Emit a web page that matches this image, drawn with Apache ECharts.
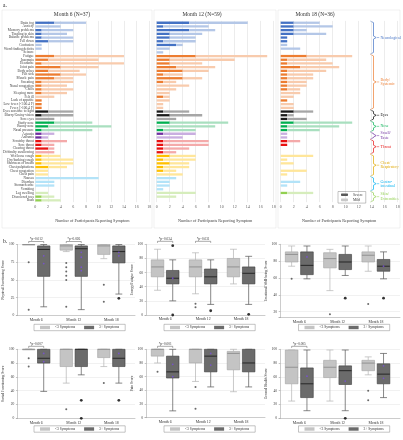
<!DOCTYPE html>
<html><head><meta charset="utf-8">
<script src="https://cdn.jsdelivr.net/npm/echarts@6.0.0/dist/echarts.min.js"></script>
<style>html,body{margin:0;padding:0;background:#fff;}#c{width:403px;height:440px;}</style>
</head><body><div id="c"></div>
<script>
// ================= Panel a data =================
const symptoms = ['Brain fog','Anxiety','Memory problems','Tingling in skin','Balance problems','Fell down','Confusion','Word finding deficits','Seizure',
 'Fatigue','Insomnia','Headache','Joint pain','Body aches','Felt sick','Muscle pain','Sweating','Nasal congestion','Chills','Sleeping more','Felt ill','Lack of appetite','Low fever (<100.4 F)','Fever (>100.4 F)',
 'Eyes sensitive to light','Blurry/Grainy vision','Sore eyes',
 'Stuffy nose','Runny nose','Nasal pressure',
 'Ageusia','Anosmia',
 'Scratchy throat','Sore throat','Clearing throat','Difficulty swallowing',
 'Wet/loose cough','Dry/barking cough','Shortness of breath','Chest palpitations','Chest congestion','Chest pain',
 'Nausea','Diarrhea','Stomach ache','Vomiting',
 'Leg swelling','Discolored toes','Rash'];
const groupNames = ['Neurological','Body/\nSystemic','Eyes','Nose','Smell/\nTaste','Throat','Chest/\nRespiratory','Gastro-\nintestinal','Skin/\nExtremities'];
const groupSizes = [9,15,3,3,2,4,6,4,3];
const panelTitles = ['Month 6 (N=37)','Month 12 (N=59)','Month 18 (N=36)'];
const barLegend = ['Severe','Mild'];

const m6Severe  = [3,0,1,1,1,2,0,0,0, 3,2,1,4,2,4,3,1,1,1,1,0,1,1,1, 2,1,0, 3,2,1, 1,1, 1,1,2,0, 1,1,1,2,0,0, 0,0,0,0, 0,1,1];
const m6Mild    = [5,4,5,4,5,4,1,1,0, 11,8,13,6,5,4,3,5,4,5,4,3,0,0,0, 4,5,3, 6,10,8, 2,1, 4,2,1,3, 3,5,5,3,2,2, 10,3,3,0, 2,2,3];
const m12Severe = [5,1,5,2,2,1,3,0,0, 6,2,2,3,4,1,4,1,0,0,0,1,0,0,0, 1,2,0, 2,0,1, 1,0, 1,1,1,1, 2,1,2,1,1,0, 0,0,0,0, 0,0,0];
const m12Mild   = [9,7,4,5,4,5,1,2,1, 11,10,5,6,4,3,3,2,5,3,2,1,2,1,1, 4,5,3, 9,9,5, 5,4, 7,7,4,2, 4,5,3,4,2,4, 3,2,2,1, 6,3,0];
const m18Severe = [2,2,2,2,1,1,0,0,0, 4,1,1,3,1,1,1,1,1,1,0,0,1,0,0, 2,1,1, 2,1,1, 0,0, 1,1,0,0, 0,0,0,0,0,0, 0,0,0,0, 1,0,0];
const m18Mild   = [4,6,2,5,0,0,1,3,0, 7,6,7,6,6,4,4,3,3,2,3,2,0,2,2, 3,1,3, 9,8,5, 1,1, 2,0,0,0, 5,1,2,0,4,1, 0,3,1,0, 4,0,0];

// ================= Panel b data =================
const months = ['Month 6','Month 12','Month 18'];
const boxLegend = ['<3 Symptoms','3+ Symptoms'];
const boxTitles = ['Physical Functioning Score','Energy/Fatigue Score','Emotional Well-being Score','Social Functioning Score','Pain Score','General Health Score'];
// [min, Q1, median, Q3, max] per month
const physLt3 = [[100,100,100,100,100],[90,92,98,100,100],[80,86,98,100,100]];
const physGe3 = [[12,55,93,98,100],[8,55,94,98,100],[30,74,90,98,100]];
const physOutLt3 = [[0,75],[0,8],[1,74],[1,68],[1,62],[1,56],[1,50],[1,12],[2,43],[2,19]];
const physOutGe3 = [[2,24]];
const physMark = [[0,84],[0,73],[1,89],[1,82],[1,68],[1,63],[2,89],[2,84]];
const physP = ['*p=0.012','*p=0.026',''];

const energyLt3 = [[35,54,68,78,93],[30,54,68,78,88],[44,54,68,80,93]];
const energyGe3 = [[20,44,52,63,78],[15,44,54,65,78],[15,44,59,68,83]];
const energyOutLt3 = [[1,16],[1,11]];
const energyOutGe3 = [[0,98],[0,0],[1,6],[2,1]];
const energyMark = [[0,52]];
const energyP = ['*p=0.034','*p=0.031',''];

const emoLt3 = [[74,79,88,91,98],[45,72,83,90,94],[68,79,87,91,98]];
const emoGe3 = [[59,64,75,91,98],[63,70,79,88,98],[59,68,74,82,91]];
const emoOutLt3 = [[0,59],[1,17],[2,29]];
const emoOutGe3 = [[1,36],[2,36]];
const emoMark = [[0,85],[2,74]];
const emoP = ['','',''];

const socLt3 = [[100,100,100,100,100],[51,75,100,100,100],[75,88,100,100,100]];
const socGe3 = [[39,80,87,100,100],[63,75,100,100,100],[51,75,87,100,100]];
const socOutLt3 = [[0,87],[0,75],[1,13],[2,51]];
const socOutGe3 = [[1,26],[1,0],[2,26]];
const socMark = [[0,94],[0,82],[2,94]];
const socP = ['*p=0.007','',''];

const painLt3 = [[80,90,100,100,100],[53,80,100,100,100],[38,70,94,97,100]];
const painGe3 = [[10,58,67,90,100],[45,67,90,100,100],[45,67,80,100,100]];
const painOutLt3 = [[0,67],[1,45],[1,13]];
const painOutGe3 = [];
const painMark = [[0,78],[0,60],[1,94],[1,77]];
const painP = ['*p=0.001','',''];

const ghLt3 = [[25,50,74,99,99],[25,59,74,84,99],[63,69,80,84,89]];
const ghGe3 = [[11,30,50,73,99],[11,49,69,76,99],[30,50,64,79,94]];
const ghOutLt3 = [[2,40],[2,26]];
const ghOutGe3 = [[1,0]];
const ghMark = [[0,61],[1,54],[2,76],[2,58]];
const ghP = ['*p=0.005','',''];

// ================= Styling / layout =================
const FONT = 'Liberation Serif';
const groupColors = [
 ['#4472C4','#B4C7E7'], ['#ED7D31','#F8CBAD'], ['#1a1a1a','#A6A6A6'], ['#00B050','#A9DFBF'],
 ['#7030A0','#C9AEE0'], ['#E81010','#F4AAAA'], ['#FFC000','#FFE69A'], ['#3FBFEF','#B3E3F8'], ['#92D050','#D6EDBC']
];
const groupLabelColors = ['#4472C4','#ED7D31','#000000','#00B050','#7030A0','#E81010','#E0A800','#00B0F0','#92D050'];
const groupOf = [];
groupSizes.forEach((n, g) => { for (let k = 0; k < n; k++) groupOf.push(g); });

const barGrids = [
  {left: 32.3, top: 20.9, width: 117, height: 181.3},
  {left: 156.7, top: 20.9, width: 117, height: 181.3},
  {left: 280.7, top: 20.9, width: 117, height: 181.3}
];
const barSets = [[m6Severe, m6Mild],[m12Severe, m12Mild],[m18Severe, m18Mild]];

const boxGrids = [
  {left: 15, top: 244.5, width: 120, height: 70.8},
  {left: 145, top: 244.3, width: 120, height: 70.7},
  {left: 279, top: 244.3, width: 121, height: 73.3},
  {left: 15, top: 349.3, width: 120, height: 69},
  {left: 145, top: 349.3, width: 120, height: 68.4},
  {left: 279, top: 349.3, width: 121, height: 69}
];
const boxDefs = [
  {lt3: physLt3, ge3: physGe3, oL: physOutLt3, oG: physOutGe3, mk: physMark, p: physP, min: 0, step: 25},
  {lt3: energyLt3, ge3: energyGe3, oL: energyOutLt3, oG: energyOutGe3, mk: energyMark, p: energyP, min: 0, step: 20},
  {lt3: emoLt3, ge3: emoGe3, oL: emoOutLt3, oG: emoOutGe3, mk: emoMark, p: emoP, min: 13, step: 20},
  {lt3: socLt3, ge3: socGe3, oL: socOutLt3, oG: socOutGe3, mk: socMark, p: socP, min: 0, step: 20},
  {lt3: painLt3, ge3: painGe3, oL: painOutLt3, oG: painOutGe3, mk: painMark, p: painP, min: 0, step: 20},
  {lt3: ghLt3, ge3: ghGe3, oL: ghOutLt3, oG: ghOutGe3, mk: ghMark, p: ghP, min: 0, step: 20}
];
const OFF = 0.2, BOXW = 0.33;

function makeBoxRender(fill, stroke, medColor, whiskColor) {
  return function (params, api) {
    const x = api.value(0);
    const ys = [1,2,3,4,5].map(d => api.coord([x, api.value(d)])[1]);
    const cx = api.coord([x, api.value(3)])[0];
    const w = api.size([BOXW, 0])[0];
    const cap = w * 0.55;
    const yMin = ys[0], yQ1 = ys[1], yMed = ys[2], yQ3 = ys[3], yMax = ys[4];
    const ls = {stroke: whiskColor, lineWidth: 0.7};
    return {type: 'group', children: [
      {type: 'line', shape: {x1: cx, y1: yMin, x2: cx, y2: yQ1}, style: ls},
      {type: 'line', shape: {x1: cx, y1: yQ3, x2: cx, y2: yMax}, style: ls},
      {type: 'line', shape: {x1: cx - cap/2, y1: yMin, x2: cx + cap/2, y2: yMin}, style: ls},
      {type: 'line', shape: {x1: cx - cap/2, y1: yMax, x2: cx + cap/2, y2: yMax}, style: ls},
      {type: 'rect', shape: {x: cx - w/2, y: yQ3, width: w, height: Math.max(yQ1 - yQ3, 0.6)}, style: {fill: fill, stroke: stroke, lineWidth: 0.6}},
      {type: 'line', shape: {x1: cx - w/2, y1: yMed, x2: cx + w/2, y2: yMed}, style: {stroke: medColor, lineWidth: 0.9}}
    ]};
  };
}
function makePRender(labels) {
  return function (params, api) {
    const text = labels[params.dataIndex];
    if (!text) return null;
    const m = api.value(0);
    const a = api.coord([m - OFF, 100]);
    const b = api.coord([m + OFF, 100]);
    const yL = a[1] - 3;
    return {type: 'group', children: [
      {type: 'polyline', shape: {points: [[a[0], yL + 1.6], [a[0], yL], [b[0], yL], [b[0], yL + 1.6]]}, style: {stroke: '#555', fill: null, lineWidth: 0.5}},
      {type: 'text', style: {text: text, x: (a[0] + b[0]) / 2, y: yL - 0.5, align: 'center', verticalAlign: 'bottom', fontSize: 3.4, fill: '#333', fontFamily: FONT}}
    ]};
  };
}

const grid = [], xAxis = [], yAxis = [], series = [], legend = [];
// ---- panel a ----
barGrids.forEach((g, i) => {
  grid.push(g);
  xAxis.push({gridIndex: i, type: 'value', min: 0, max: 18, interval: 2,
    axisLine: {show: false}, axisTick: {show: false},
    axisLabel: {fontSize: 4, margin: 2.5, color: '#595959'},
    splitLine: {lineStyle: {color: '#d9d9d9', width: 0.5}},
    name: 'Number of Participants Reporting Symptom', nameLocation: 'middle', nameGap: 17,
    nameTextStyle: {fontSize: 4.2, color: '#404040'}});
  yAxis.push({gridIndex: i, type: 'category', data: symptoms, inverse: true,
    axisLine: {show: false}, axisTick: {show: false},
    axisLabel: {show: i === 0, interval: 0, fontSize: 3.5, margin: 1.5, color: '#404040'}});
  const [sev, mild] = barSets[i];
  series.push({type: 'bar', name: 'Severe', xAxisIndex: i, yAxisIndex: i, stack: 's' + i, barWidth: 2.3,
    itemStyle: {color: '#595959'}, data: sev.map((v, j) => ({value: v, itemStyle: {color: groupColors[groupOf[j]][0]}}))});
  series.push({type: 'bar', name: 'Mild', xAxisIndex: i, yAxisIndex: i, stack: 's' + i, barWidth: 2.3,
    itemStyle: {color: '#c8c8c8'}, data: mild.map((v, j) => ({value: v, itemStyle: {color: groupColors[groupOf[j]][1]}}))});
});
legend.push({data: barLegend, orient: 'vertical', left: 338, top: 191.5, itemWidth: 7, itemHeight: 2.6, itemGap: 1.2,
  textStyle: {fontSize: 3.6, color: '#333'}, borderColor: '#888', borderWidth: 0.5, padding: [1.2, 3]});

// ---- panel b ----
boxDefs.forEach((d, k) => {
  const gi = 3 + k;
  const g = boxGrids[k];
  grid.push(g);
  xAxis.push({gridIndex: gi, type: 'value', min: -0.03, max: 3.13,
    axisLine: {lineStyle: {color: '#999', width: 0.5}}, axisTick: {show: false}, splitLine: {show: false},
    axisLabel: {customValues: [0.5, 1.5, 2.5], formatter: v => months[Math.round(v - 0.5)], fontSize: 3.8, margin: 2.5, color: '#333'}});
  const yA = {gridIndex: gi, type: 'value', min: d.min, max: 100,
    axisLine: {show: true, lineStyle: {color: '#999', width: 0.5}}, axisTick: {show: true, length: 1.5, lineStyle: {color: '#999', width: 0.5}},
    axisLabel: {fontSize: 3.6, margin: 2, color: '#333', formatter: v => (v % d.step === 0 ? String(v) : '')},
    splitLine: {showMinLine: false, lineStyle: {color: '#e3e3e3', width: 0.5}},
    name: boxTitles[k], nameLocation: 'middle', nameGap: 7.5, nameTextStyle: {fontSize: 3.6, color: '#333'}};
  if (d.min % d.step === 0) yA.interval = d.step; else yA.splitNumber = 4;
  yAxis.push(yA);
  series.push({type: 'custom', name: boxLegend[0], xAxisIndex: gi, yAxisIndex: gi, clip: false, z: 2,
    itemStyle: {color: '#c4c4c4'}, encode: {x: 0, y: [1,2,3,4,5]},
    data: d.lt3.map((s, m) => [m + 0.5 - OFF].concat(s)),
    renderItem: makeBoxRender('#c4c4c4', '#a3a3a3', '#8c8c8c', '#b3b3b3')});
  series.push({type: 'custom', name: boxLegend[1], xAxisIndex: gi, yAxisIndex: gi, clip: false, z: 2,
    itemStyle: {color: '#6b6b6b'}, encode: {x: 0, y: [1,2,3,4,5]},
    data: d.ge3.map((s, m) => [m + 0.5 + OFF].concat(s)),
    renderItem: makeBoxRender('#6b6b6b', '#3d3d3d', '#1f1f1f', '#555555')});
  series.push({type: 'scatter', xAxisIndex: gi, yAxisIndex: gi, symbolSize: 2, z: 3, silent: true,
    itemStyle: {color: '#444'}, data: d.oL.map(o => [o[0] + 0.5 - OFF, o[1]])});
  series.push({type: 'scatter', xAxisIndex: gi, yAxisIndex: gi, symbolSize: 2.8, z: 3, silent: true,
    itemStyle: {color: '#000'}, data: d.oG.map(o => [o[0] + 0.5 + OFF, o[1]])});
  series.push({type: 'scatter', xAxisIndex: gi, yAxisIndex: gi, symbolSize: 1.8, z: 4, silent: true,
    itemStyle: {color: '#7a4fe0'}, data: d.mk.map(o => [o[0] + 0.5 + OFF, o[1]])});
  series.push({type: 'custom', xAxisIndex: gi, yAxisIndex: gi, clip: false, z: 5, silent: true,
    encode: {x: 0, y: 1}, data: [0,1,2].map(m => [m + 0.5, 100]), renderItem: makePRender(d.p)});
  const cx = g.left + g.width / 2;
  legend.push({data: boxLegend, left: cx - 41, top: k < 3 ? 324.3 : 425.8, itemWidth: 10, itemHeight: 3.4, itemGap: 9,
    textStyle: {fontSize: 3.6, color: '#333'}, borderColor: '#888', borderWidth: 0.5, padding: [1.2, 6],
    icon: 'rect'});
});

const option = {
  animation: false,
  backgroundColor: '#fff',
  textStyle: {fontFamily: FONT},
  grid, xAxis, yAxis, series, legend,
  graphic: []
};

const chart = echarts.init(document.getElementById('c'), null, {renderer: 'canvas'});
chart.setOption(option);

// ---- annotations (titles, frames, group braces) ----
const gfx = [];
gfx.push({type: 'text', left: 3, top: 3, style: {text: 'a.', fontSize: 5.5, fill: '#222', fontFamily: FONT}});
gfx.push({type: 'text', left: 3, top: 239, style: {text: 'b.', fontSize: 5.5, fill: '#222', fontFamily: FONT}});
const frames = [[2, 10, 150, 218], [154, 10, 122, 218], [278, 10, 122, 218]];
frames.forEach(f => gfx.push({type: 'rect', shape: {x: f[0], y: f[1], width: f[2], height: f[3]}, style: {fill: null, stroke: '#e0e0e0', lineWidth: 0.5}, z: -1}));
const titleX = [72, 202, 315];
panelTitles.forEach((t, i) => gfx.push({type: 'text', x: titleX[i], y: 15, style: {text: t, fontSize: 5.5, fill: '#333', fontFamily: FONT, align: 'center', verticalAlign: 'middle'}}));

let start = 0;
const bx0 = 370.5, bx1 = 373.5, tip = 376.2;
groupNames.forEach((name, gi) => {
  const n = groupSizes[gi];
  const yTop = chart.convertToPixel({yAxisIndex: 2}, symptoms[start]) - 1.6;
  const yBot = chart.convertToPixel({yAxisIndex: 2}, symptoms[start + n - 1]) + 1.6;
  const mid = (yTop + yBot) / 2;
  const c = groupLabelColors[gi];
  const r = Math.min(1.5, (yBot - yTop) / 4);
  gfx.push({type: 'polyline', shape: {points: [[bx0, yTop], [bx1, yTop + r], [bx1, mid - r], [tip, mid], [bx1, mid + r], [bx1, yBot - r], [bx0, yBot]]},
    style: {fill: null, stroke: c, lineWidth: 0.7}});
  gfx.push({type: 'line', shape: {x1: tip + 0.8, y1: mid, x2: tip + 3, y2: mid}, style: {stroke: c, lineWidth: 0.5}});
  gfx.push({type: 'text', x: 380.5, y: mid, style: {text: name, fontSize: 3.9, lineHeight: 4.4, fill: c, fontFamily: FONT, verticalAlign: 'middle'}});
  start += n;
});
chart.setOption({graphic: gfx});
</script>
</body></html>
